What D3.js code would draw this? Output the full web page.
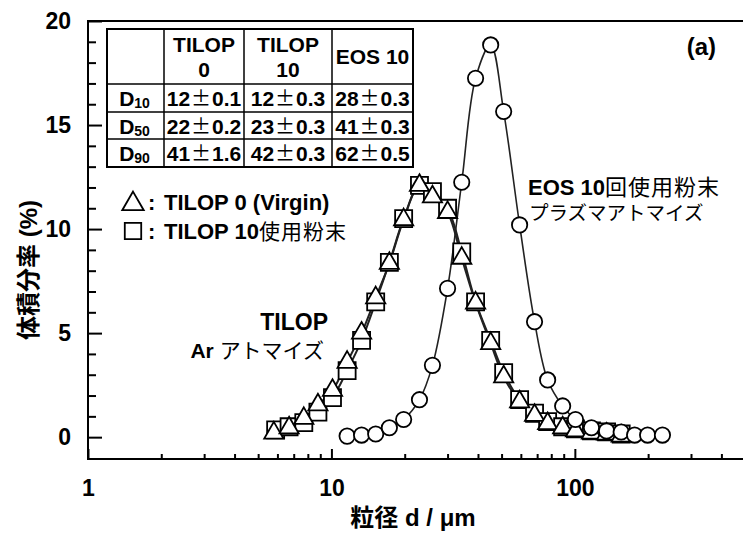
<!DOCTYPE html>
<html>
<head>
<meta charset="utf-8">
<script src="https://cdn.jsdelivr.net/npm/d3@7"></script>
<style>
  body { margin: 0; background: #fff; }
  svg { display: block; }
  text { font-family: "Liberation Sans", Arial, "Noto Sans CJK JP", sans-serif; fill: #000; }
</style>
</head>
<body>
<div id="chart"></div>
<script>
// particle size (µm) and volume fraction (%)
var tilop0Sizes = [5.8, 6.7, 7.7, 8.8, 10.1, 11.6, 13.3, 15.2, 17.3, 19.8, 23.0, 26.0, 30.0, 34.3, 39.1,
                   45.1, 51.0, 59.3, 68.3, 77.3, 89.1, 100.6, 117, 135, 155];
var tilop0Values = [0.2, 0.45, 0.9, 1.55, 2.25, 3.6, 5.0, 6.7, 8.35, 10.45, 12.1, 11.55, 10.8, 8.6, 6.45,
                    4.5, 2.9, 1.7, 1.05, 0.65, 0.45, 0.3, 0.2, 0.15, 0.05];

var tilop10Sizes = [5.9, 6.7, 7.7, 8.8, 10.1, 11.6, 13.3, 15.2, 17.3, 19.8, 23.0, 26.0, 30.0, 34.3, 39.1,
                    45.1, 51.0, 59.3, 68.3, 77.3, 89.1, 100.6, 117, 135, 155];
var tilop10Values = [0.35, 0.5, 0.7, 1.2, 1.9, 3.2, 4.65, 6.5, 8.4, 10.5, 12.1, 11.8, 11.0, 8.9, 6.5,
                     4.65, 3.1, 1.8, 1.15, 0.75, 0.5, 0.4, 0.3, 0.25, 0.15];

var eosSizes = [11.6, 13.3, 15.2, 17.3, 19.8, 23.0, 26.0, 30.0, 34.3, 39.1, 45.1, 51.0, 59.3, 68.3,
                77.3, 89.1, 100.6, 117, 135, 155, 176, 199, 229];
var eosValues = [0.05, 0.1, 0.15, 0.45, 0.85, 1.8, 3.45, 7.15, 12.25, 17.25, 18.85, 15.65, 10.2, 5.55,
                 2.75, 1.5, 0.85, 0.45, 0.3, 0.25, 0.1, 0.1, 0.1];

var xMajorTicks = [1, 10, 100];
var xMinorTicks = [2, 3, 4, 5, 6, 7, 8, 9, 20, 30, 40, 50, 60, 70, 80, 90, 200, 300, 400];
var yMajorTicks = [0, 5, 10, 15, 20];
var yMinorTicks = [1, 2, 3, 4, 6, 7, 8, 9, 11, 12, 13, 14, 16, 17, 18, 19];

// table of D10 / D50 / D90
var tableHeaders = [[], ["TILOP", "0"], ["TILOP", "10"], ["EOS 10"]];
var tableRowLabels = ["10", "50", "90"];
var tableMeans = [["12", "12", "28"], ["22", "23", "41"], ["41", "42", "62"]];
var tableErrors = [["0.1", "0.3", "0.3"], ["0.2", "0.3", "0.3"], ["1.6", "0.3", "0.5"]];

var W = 743, H = 534;
var svg = d3.select("#chart").append("svg").attr("width", W).attr("height", H);

var x = d3.scaleLog().domain([1, 500]).range([88, 745]);
var y = d3.scaleLinear().domain([-1.05, 20]).range([459, 21]);

// frame
svg.append("rect")
  .attr("x", 88).attr("y", 21).attr("width", 745 - 88).attr("height", 459 - 21)
  .attr("fill", "none").attr("stroke", "#000").attr("stroke-width", 2);

// axes: major + minor ticks pointing inward
var xMajor = svg.append("g").attr("transform", "translate(0,459)")
  .call(d3.axisBottom(x).tickValues(xMajorTicks).tickSize(-10).tickPadding(21).tickFormat(d3.format("d")));
var xMinor = svg.append("g").attr("transform", "translate(0,459)")
  .call(d3.axisBottom(x).tickValues(xMinorTicks).tickSize(-5).tickFormat(""));

var yMajor = svg.append("g").attr("transform", "translate(88,0)")
  .call(d3.axisLeft(y).tickValues(yMajorTicks).tickSize(-14).tickPadding(17));
var yMinor = svg.append("g").attr("transform", "translate(88,0)")
  .call(d3.axisLeft(y).tickValues(yMinorTicks).tickSize(-8).tickFormat(""));

[xMajor, xMinor, yMajor, yMinor].forEach(function (g) {
  g.select(".domain").remove();
  g.selectAll("line").attr("stroke", "#000").attr("stroke-width", 2);
  g.selectAll("text").attr("font-size", 23).attr("font-weight", "bold")
    .attr("font-family", "Liberation Sans, Arial, sans-serif");
});

// axis titles
svg.append("text")
  .attr("x", 413).attr("y", 526).attr("text-anchor", "middle")
  .attr("font-size", 24).attr("font-weight", "bold")
  .text("粒径 d / μm");

svg.append("text")
  .attr("transform", "translate(37,270) rotate(-90)")
  .attr("text-anchor", "middle")
  .attr("font-size", 24).attr("font-weight", "bold")
  .text("体積分率 (%)");

// curves
var line = d3.line()
  .x(function (d) { return x(d[0]); })
  .y(function (d) { return y(d[1]); })
  .curve(d3.curveCatmullRom.alpha(0.5));

function pairs(sizes, values) {
  return sizes.map(function (s, i) { return [s, values[i]]; });
}

var tilop10Data = pairs(tilop10Sizes, tilop10Values);
var tilop0Data = pairs(tilop0Sizes, tilop0Values);
var eosData = pairs(eosSizes, eosValues);

svg.append("path").datum(tilop10Data).attr("d", line)
  .attr("fill", "none").attr("stroke", "#222").attr("stroke-width", 2);
svg.append("path").datum(tilop0Data).attr("d", line)
  .attr("fill", "none").attr("stroke", "#222").attr("stroke-width", 2);
svg.append("path").datum(eosData).attr("d", line)
  .attr("fill", "none").attr("stroke", "#222").attr("stroke-width", 1.6);

var squareSym = d3.symbol().type(d3.symbolSquare).size(290);
var triSym = d3.symbol().type(d3.symbolTriangle).size(160);
var circSym = d3.symbol().type(d3.symbolCircle).size(185);

function markers(data, sym, cls) {
  svg.selectAll("path." + cls)
    .data(data)
    .enter().append("path")
    .attr("class", cls)
    .attr("d", sym)
    .attr("transform", function (d) { return "translate(" + x(d[0]) + "," + y(d[1]) + ")"; })
    .attr("fill", "#fff").attr("stroke", "#000").attr("stroke-width", 1.8);
}
markers(tilop10Data, squareSym, "sq");
markers(tilop0Data, triSym, "tri");
markers(eosData, circSym, "circ");

// table
var colX = [107, 164, 244, 332, 413];
var rowY = [29, 84, 112, 139, 167];
var tbl = svg.append("g");
tbl.append("rect").attr("x", colX[0]).attr("y", rowY[0])
  .attr("width", colX[4] - colX[0]).attr("height", rowY[4] - rowY[0])
  .attr("fill", "#fff").attr("stroke", "#000").attr("stroke-width", 2);
colX.slice(1, 4).forEach(function (cx) {
  tbl.append("line").attr("x1", cx).attr("x2", cx).attr("y1", rowY[0]).attr("y2", rowY[4])
    .attr("stroke", "#000").attr("stroke-width", 1.5);
});
rowY.slice(1, 4).forEach(function (ry) {
  tbl.append("line").attr("x1", colX[0]).attr("x2", colX[4]).attr("y1", ry).attr("y2", ry)
    .attr("stroke", "#000").attr("stroke-width", 1.5);
});

tableHeaders.forEach(function (lines, c) {
  var cx = (colX[c] + colX[c + 1]) / 2;
  var cy = (rowY[0] + rowY[1]) / 2;
  lines.forEach(function (t, k) {
    tbl.append("text")
      .attr("x", cx).attr("y", cy + (k - (lines.length - 1) / 2) * 25 + 7.5)
      .attr("text-anchor", "middle").attr("font-size", 21).attr("font-weight", "bold")
      .text(t);
  });
});

tableRowLabels.forEach(function (sub, r) {
  var cy = (rowY[r + 1] + rowY[r + 2]) / 2;
  var t = tbl.append("text")
    .attr("x", (colX[0] + colX[1]) / 2 - 1).attr("y", cy + 8)
    .attr("text-anchor", "middle").attr("font-weight", "bold");
  t.append("tspan").attr("font-size", 21).text("D");
  t.append("tspan").attr("font-size", 14).attr("dy", 2).text(sub);
  tableMeans[r].forEach(function (m, c) {
    var cell = tbl.append("text")
      .attr("x", (colX[c + 1] + colX[c + 2]) / 2).attr("y", cy + 8)
      .attr("text-anchor", "middle").attr("font-size", 21).attr("font-weight", "bold");
    cell.append("tspan").text(m);
    cell.append("tspan").attr("font-family", "Noto Sans CJK JP").attr("font-weight", "normal")
      .attr("font-size", 20).attr("dx", 1).text("±");
    cell.append("tspan").attr("dx", 1).text(tableErrors[r][c]);
  });
});

// legend
var leg = svg.append("g");
leg.append("path").attr("d", d3.symbol().type(d3.symbolTriangle).size(200)())
  .attr("transform", "translate(133,204)")
  .attr("fill", "#fff").attr("stroke", "#000").attr("stroke-width", 1.8);
leg.append("path").attr("d", d3.symbol().type(d3.symbolSquare).size(270)())
  .attr("transform", "translate(133,231)")
  .attr("fill", "#fff").attr("stroke", "#000").attr("stroke-width", 1.8);
leg.append("text").attr("x", 148).attr("y", 210).attr("font-size", 22).attr("font-weight", "bold").text(":");
leg.append("text").attr("x", 148).attr("y", 239).attr("font-size", 22).attr("font-weight", "bold").text(":");
leg.append("text").attr("x", 164).attr("y", 210).attr("font-size", 22).attr("font-weight", "bold")
  .text("TILOP 0 (Virgin)");
var leg2 = leg.append("text").attr("x", 164).attr("y", 239).attr("font-size", 22).attr("font-weight", "bold");
leg2.append("tspan").text("TILOP 10");
leg2.append("tspan").attr("font-family", "Noto Sans CJK JP").attr("font-weight", "normal")
  .attr("font-size", 21).attr("letter-spacing", 1).text("使用粉末");

// annotations
svg.append("text").attr("x", 716).attr("y", 55).attr("text-anchor", "end")
  .attr("font-size", 24).attr("font-weight", "bold").text("(a)");

svg.append("text").attr("x", 328).attr("y", 330).attr("text-anchor", "end")
  .attr("font-size", 23).attr("font-weight", "bold").text("TILOP");
var ar = svg.append("text").attr("x", 324).attr("y", 358).attr("text-anchor", "end").attr("font-size", 21);
ar.append("tspan").attr("font-weight", "bold").text("Ar ");
ar.append("tspan").attr("font-family", "Noto Sans CJK JP").text("アトマイズ");

var eosLbl = svg.append("text").attr("x", 528).attr("y", 195).attr("font-size", 22);
eosLbl.append("tspan").attr("font-weight", "bold").text("EOS 10");
eosLbl.append("tspan").attr("font-family", "Noto Sans CJK JP").attr("letter-spacing", 1).text("回使用粉末");
svg.append("text").attr("x", 529).attr("y", 220).attr("font-size", 19.5)
  .attr("font-family", "Noto Sans CJK JP").text("プラズマアトマイズ");
</script>
</body>
</html>
